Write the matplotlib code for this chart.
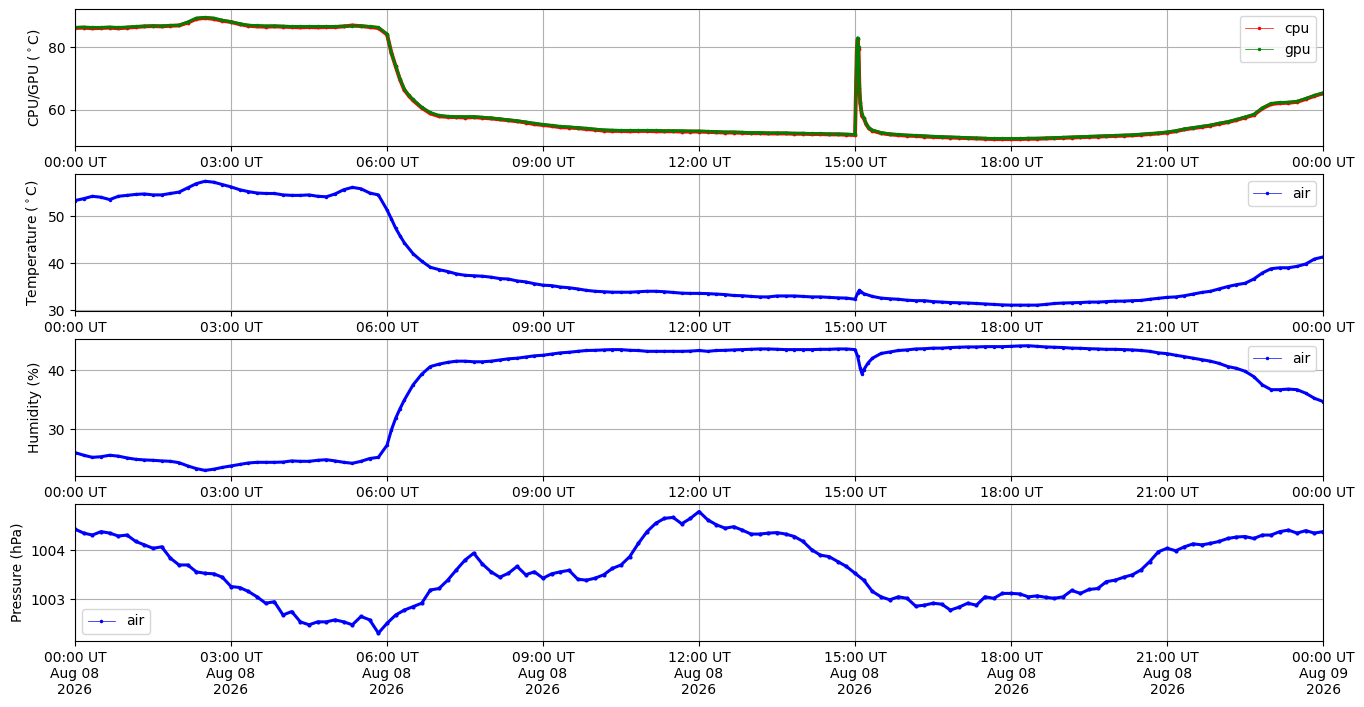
import numpy as np
import pandas as pd
import matplotlib
matplotlib.use("Agg")
import matplotlib.pyplot as plt
import matplotlib.dates as mdates
from matplotlib.lines import Line2D
from matplotlib.ticker import MultipleLocator, ScalarFormatter

DAY = "2026-08-08"
start = pd.Timestamp(DAY + " 00:00")
end = pd.Timestamp("2026-08-09 00:00")
grid_times = pd.date_range(start, end, freq="10min")

# ---- readings every 10 minutes (one row per hour) ----
gpu_base = [
    86.3, 86.4, 86.3, 86.3, 86.4, 86.3,
    86.4, 86.6, 86.7, 86.8, 86.8, 86.9,
    87.0, 88.0, 89.3, 89.5, 89.3, 88.6,
    88.1, 87.5, 87.0, 86.9, 86.8, 86.8,
    86.7, 86.6, 86.6, 86.6, 86.6, 86.6,
    86.6, 86.7, 86.7, 86.8, 86.6, 86.3,
    84.2, 74.0, 66.6, 63.3, 60.8, 59.1,
    58.2, 57.9, 57.8, 57.8, 57.8, 57.6,
    57.4, 57.1, 56.8, 56.5, 56.1, 55.7,
    55.3, 55.0, 54.7, 54.5, 54.3, 54.1,
    53.8, 53.6, 53.5, 53.4, 53.4, 53.4,
    53.4, 53.4, 53.3, 53.3, 53.3, 53.2,
    53.2, 53.1, 53.0, 52.9, 52.9, 52.8,
    52.7, 52.7, 52.6, 52.6, 52.6, 52.5,
    52.5, 52.4, 52.4, 52.3, 52.3, 52.2,
    52.1, 57.5, 53.5, 52.7, 52.3, 52.1,
    51.9, 51.8, 51.7, 51.5, 51.4, 51.3,
    51.2, 51.1, 51.0, 50.9, 50.8, 50.8,
    50.8, 50.8, 50.9, 50.9, 51.0, 51.1,
    51.2, 51.3, 51.4, 51.5, 51.6, 51.7,
    51.8, 51.9, 52.0, 52.2, 52.4, 52.6,
    52.9, 53.3, 53.9, 54.3, 54.7, 55.1,
    55.7, 56.2, 56.9, 57.7, 58.5, 60.6,
    62.0, 62.3, 62.4, 62.7, 63.6, 64.6,
    65.4,
]
cpu_base = [
    86.1, 86.2, 86.0, 86.1, 86.2, 86.0,
    86.2, 86.4, 86.6, 86.7, 86.6, 86.8,
    86.9, 87.8, 89.0, 89.3, 89.0, 88.4,
    88.0, 87.3, 86.8, 86.6, 86.5, 86.6,
    86.5, 86.4, 86.3, 86.4, 86.3, 86.4,
    86.4, 86.6, 86.9, 86.7, 86.4, 86.1,
    84.0, 73.8, 66.3, 63.0, 60.6, 58.8,
    57.9, 57.7, 57.6, 57.5, 57.6, 57.4,
    57.2, 56.9, 56.6, 56.3, 55.9, 55.4,
    55.1, 54.8, 54.4, 54.3, 54.1, 53.8,
    53.6, 53.3, 53.2, 53.2, 53.1, 53.2,
    53.2, 53.1, 53.1, 53.1, 53.0, 53.0,
    53.0, 52.9, 52.8, 52.7, 52.7, 52.6,
    52.5, 52.5, 52.4, 52.4, 52.4, 52.3,
    52.3, 52.2, 52.2, 52.1, 52.1, 52.0,
    51.9, 57.3, 53.3, 52.5, 52.1, 51.9,
    51.7, 51.6, 51.4, 51.3, 51.2, 51.1,
    51.0, 50.9, 50.8, 50.7, 50.6, 50.6,
    50.6, 50.6, 50.7, 50.7, 50.8, 50.9,
    51.0, 51.1, 51.2, 51.3, 51.4, 51.5,
    51.6, 51.7, 51.8, 52.0, 52.2, 52.4,
    52.7, 53.1, 53.7, 54.1, 54.5, 54.9,
    55.5, 56.0, 56.7, 57.5, 58.3, 60.4,
    61.8, 62.1, 62.2, 62.5, 63.4, 64.4,
    65.2,
]
temp_base = [
    53.3, 53.7, 54.2, 54.0, 53.5, 54.2,
    54.4, 54.6, 54.7, 54.5, 54.5, 54.8,
    55.1, 56.0, 56.9, 57.4, 57.2, 56.7,
    56.2, 55.6, 55.2, 54.9, 54.8, 54.8,
    54.5, 54.4, 54.4, 54.5, 54.2, 54.1,
    54.7, 55.6, 56.1, 55.8, 54.9, 54.5,
    51.3, 47.4, 44.3, 42.0, 40.4, 39.1,
    38.6, 38.2, 37.7, 37.4, 37.3, 37.2,
    37.0, 36.7, 36.6, 36.2, 36.0, 35.6,
    35.3, 35.2, 34.9, 34.75, 34.5, 34.2,
    34.0, 33.9, 33.8, 33.8, 33.8, 33.9,
    34.0, 34.0, 33.9, 33.75, 33.6, 33.55,
    33.55, 33.5, 33.4, 33.3, 33.1, 33.05,
    32.9, 32.8, 32.8, 33.0, 33.0, 33.0,
    32.9, 32.8, 32.8, 32.7, 32.6, 32.55,
    32.3, 33.5, 32.9, 32.55, 32.4, 32.3,
    32.1, 32.0, 32.0, 31.8, 31.7, 31.6,
    31.55, 31.5, 31.4, 31.3, 31.2, 31.1,
    31.05, 31.05, 31.05, 31.05, 31.2, 31.4,
    31.5, 31.55, 31.6, 31.7, 31.7, 31.8,
    31.9, 31.9, 32.0, 32.05, 32.3, 32.5,
    32.7, 32.8, 33.05, 33.4, 33.75, 34.0,
    34.5, 35.0, 35.4, 35.7, 36.6, 37.9,
    38.8, 39.0, 39.0, 39.3, 39.8, 40.85,
    41.3,
]
hum_base = [
    26.1, 25.65, 25.3, 25.4, 25.65, 25.5,
    25.2, 24.97, 24.86, 24.8, 24.7, 24.63,
    24.4, 23.85, 23.4, 23.1, 23.3, 23.6,
    23.85, 24.1, 24.35, 24.46, 24.46, 24.46,
    24.5, 24.7, 24.63, 24.63, 24.8, 24.9,
    24.7, 24.46, 24.3, 24.63, 25.1, 25.3,
    27.35, 31.9, 34.97, 37.5, 39.3, 40.6,
    41.0, 41.3, 41.5, 41.5, 41.4, 41.4,
    41.5, 41.7, 41.9, 42.0, 42.2, 42.4,
    42.5, 42.7, 42.9, 43.0, 43.16, 43.3,
    43.33, 43.4, 43.45, 43.45, 43.33, 43.3,
    43.16, 43.16, 43.16, 43.16, 43.16, 43.2,
    43.3, 43.16, 43.3, 43.33, 43.4, 43.45,
    43.5, 43.56, 43.56, 43.5, 43.45, 43.45,
    43.45, 43.45, 43.5, 43.5, 43.56, 43.56,
    43.45, 40.05, 42.0, 42.8, 43.05, 43.3,
    43.4, 43.56, 43.6, 43.7, 43.7, 43.8,
    43.85, 43.9, 43.9, 43.95, 43.95, 43.95,
    44.0, 44.07, 44.1, 44.0, 43.9, 43.85,
    43.8, 43.7, 43.67, 43.6, 43.56, 43.5,
    43.5, 43.45, 43.4, 43.3, 43.16, 42.9,
    42.77, 42.5, 42.26, 42.0, 41.75, 41.5,
    41.13, 40.6, 40.3, 39.8, 38.9, 37.5,
    36.7, 36.7, 36.8, 36.7, 36.1, 35.25,
    34.7,
]
pres_base = [
    1004.43, 1004.35, 1004.31, 1004.38, 1004.35, 1004.29,
    1004.31, 1004.18, 1004.11, 1004.04, 1004.07, 1003.84,
    1003.70, 1003.70, 1003.56, 1003.53, 1003.52, 1003.45,
    1003.26, 1003.24, 1003.16, 1003.05, 1002.92, 1002.95,
    1002.68, 1002.75, 1002.54, 1002.48, 1002.54, 1002.54,
    1002.58, 1002.54, 1002.48, 1002.65, 1002.58, 1002.31,
    1002.51, 1002.68, 1002.78, 1002.85, 1002.92, 1003.19,
    1003.22, 1003.39, 1003.60, 1003.80, 1003.94, 1003.72,
    1003.56, 1003.45, 1003.53, 1003.67, 1003.50, 1003.56,
    1003.43, 1003.52, 1003.56, 1003.59, 1003.41, 1003.39,
    1003.43, 1003.50, 1003.63, 1003.70, 1003.87, 1004.14,
    1004.38, 1004.55, 1004.65, 1004.67, 1004.54, 1004.65,
    1004.79, 1004.62, 1004.52, 1004.45, 1004.48, 1004.41,
    1004.33, 1004.33, 1004.35, 1004.36, 1004.33, 1004.28,
    1004.18, 1004.01, 1003.90, 1003.87, 1003.77, 1003.67,
    1003.53, 1003.39, 1003.16, 1003.05, 1002.99, 1003.05,
    1003.02, 1002.86, 1002.88, 1002.92, 1002.90, 1002.78,
    1002.84, 1002.92, 1002.88, 1003.05, 1003.02, 1003.12,
    1003.12, 1003.11, 1003.05, 1003.07, 1003.04, 1003.02,
    1003.05, 1003.18, 1003.12, 1003.20, 1003.22, 1003.36,
    1003.39, 1003.45, 1003.50, 1003.60, 1003.77, 1003.97,
    1004.04, 1003.99, 1004.07, 1004.13, 1004.11, 1004.14,
    1004.18, 1004.24, 1004.27, 1004.28, 1004.24, 1004.31,
    1004.31, 1004.38, 1004.41, 1004.35, 1004.40, 1004.35,
    1004.38,
]

# ---- extra readings around fast changes ----
chip_extra_times = ["06:05", "06:15", "06:25", "15:01", "15:02", "15:03",
                    "15:04", "15:05", "15:06", "15:08", "15:13", "15:16"]
gpu_extra = [78.0, 69.8, 64.7, 66.0, 80.0, 83.0, 80.0, 68.0, 62.5, 58.5, 55.5, 54.3]
cpu_extra = [78.2, 69.6, 64.5, 65.0, 79.0, 82.5, 79.5, 67.0, 62.0, 58.0, 55.3, 54.0]
temp_extra_times = ["06:05", "06:15", "15:03", "15:05", "15:07"]
temp_extra = [49.4, 45.8, 33.6, 34.2, 33.9]
hum_extra_times = ["06:05", "06:15", "15:03", "15:06", "15:08", "15:15"]
hum_extra = [29.9, 33.5, 42.3, 40.3, 39.4, 41.2]


def series(base, extra_times=(), extra_vals=()):
    s = pd.Series(base, index=grid_times)
    if len(extra_times):
        e = pd.Series(list(extra_vals),
                      index=pd.to_datetime([DAY + " " + t for t in extra_times]))
        s = pd.concat([s, e]).sort_index()
    return s


gpu = series(gpu_base, chip_extra_times, gpu_extra)
cpu = series(cpu_base, chip_extra_times, cpu_extra)
temp = series(temp_base, temp_extra_times, temp_extra)
hum = series(hum_base, hum_extra_times, hum_extra)
pres = series(pres_base)

fig = plt.figure(figsize=(13.64, 7.07), dpi=100)
L, W = 0.055, 0.915
H = 0.1935
bottoms = [0.7935, 0.5601, 0.3267, 0.0934]
axes = [fig.add_axes([L, b, W, H]) for b in bottoms]


def draw(ax, s, color, lw, ms):
    ax.plot(s.index, s.values, '-', color=color, lw=lw, solid_joinstyle='round')
    ax.plot(s.index, s.values, '.', color=color, ms=ms)


def handle(color, label):
    return Line2D([], [], color=color, lw=0.5, marker='.', ms=3, label=label)


ax = axes[0]
draw(ax, cpu, 'red', 2.8, 3.5)
draw(ax, gpu, 'green', 2.0, 3.0)
ax.set_ylim(48.4, 92.1)
ax.yaxis.set_major_locator(MultipleLocator(20))
ax.set_ylabel(r'CPU/GPU ($^\circ$C)')
ax.legend(handles=[handle('red', 'cpu'), handle('green', 'gpu')], loc='upper right')

ax = axes[1]
draw(ax, temp, 'blue', 2.2, 3.0)
ax.set_ylim(29.8, 58.9)
ax.yaxis.set_major_locator(MultipleLocator(10))
ax.set_ylabel(r'Temperature ($^\circ$C)')
ax.legend(handles=[handle('blue', 'air')], loc='upper right')

ax = axes[2]
draw(ax, hum, 'blue', 2.2, 3.0)
ax.set_ylim(22.15, 45.2)
ax.yaxis.set_major_locator(MultipleLocator(10))
ax.set_ylabel('Humidity (%)')
ax.legend(handles=[handle('blue', 'air')], loc='upper right')

ax = axes[3]
draw(ax, pres, 'blue', 2.2, 4.0)
ax.set_ylim(1002.15, 1004.94)
ax.yaxis.set_major_locator(MultipleLocator(1))
fmt = ScalarFormatter(useOffset=False)
ax.yaxis.set_major_formatter(fmt)
ax.set_ylabel('Pressure (hPa)')
ax.legend(handles=[handle('blue', 'air')], loc='lower left')

for i, ax in enumerate(axes):
    ax.set_xlim(start, end)
    ax.xaxis.set_major_locator(mdates.HourLocator(byhour=range(0, 24, 3)))
    if i < 3:
        ax.xaxis.set_major_formatter(mdates.DateFormatter('%H:%M UT'))
    else:
        ax.xaxis.set_major_formatter(mdates.DateFormatter('%H:%M UT\n%b %d\n%Y'))
    ax.grid(True)

fig.savefig('out.png', dpi=100)
